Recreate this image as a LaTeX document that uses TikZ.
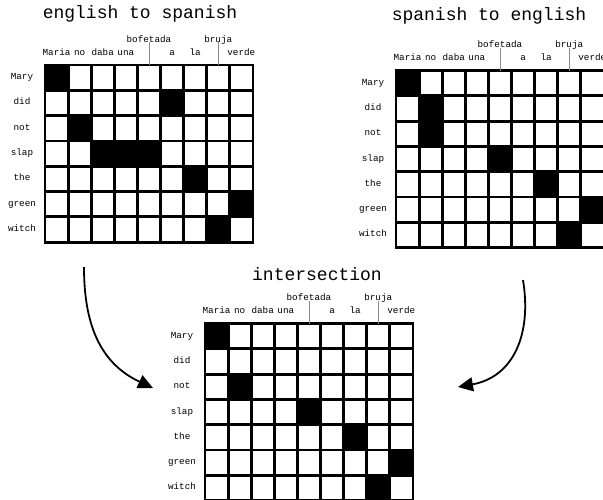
\documentclass[tikz,border=0pt]{standalone}
\usepackage{fontspec}
\setmonofont{Liberation Mono}
\usetikzlibrary{arrows.meta,positioning}
\newcommand{\cellw}{23.1}
\newcommand{\cellh}{25.3}
\tikzset{
  gridtitle/.style={font=\ttfamily\fontsize{18}{18}\selectfont,inner sep=0pt},
  wordlabel/.style={font=\ttfamily\fontsize{9.3}{9.3}\selectfont,inner sep=0pt,
                    text height=5.6pt,text depth=1.6pt},
  gridbg/.style={fill=black},
  cellbox/.style={fill=white},
  hitbox/.style={fill=black},
  tickline/.style={draw=black!45,line width=0.7pt},
  flowarr/.style={-{Triangle[length=15pt,width=14pt]},line width=1.8pt}
}
% #1 prefix, #2/#3 top-left corner, #4 aligned cells as row/col
\newcommand{\aligngrid}[4]{
  \fill[gridbg] ({#2-1.4},{#3-1.4}) rectangle ({#2+9*\cellw+1.4},{#3+7*\cellh+1.4});
  \foreach \r in {0,...,6}{
    \foreach \c in {0,...,8}{
      \fill[cellbox] ({#2+\c*\cellw+1.4},{#3+\r*\cellh+1.4})
        rectangle ({#2+(\c+1)*\cellw-1.4},{#3+(\r+1)*\cellh-1.4});
    }
  }
  \foreach \r/\c in {#4}{
    \fill[hitbox] ({#2+\c*\cellw},{#3+\r*\cellh})
      rectangle ({#2+(\c+1)*\cellw},{#3+(\r+1)*\cellh});
  }
  % english words down the side
  \foreach \r/\w in {0/Mary,1/did,2/not,3/slap,4/the,5/green,6/witch}{
    \node[wordlabel] (#1-r\r) at ({#2-23},{#3+(\r+0.5)*\cellh}) {\w};
  }
  % spanish words along the top
  \foreach \c/\w in {0/Maria,1/no,2/daba,3/una,5/a,6/la,8/verde}{
    \node[wordlabel] (#1-c\c) at ({#2+(\c+0.5)*\cellw},{#3-12}) {\w};
  }
  \foreach \c/\w in {4/bofetada,7/bruja}{
    \node[wordlabel] (#1-c\c) at ({#2+(\c+0.5)*\cellw},{#3-25}) {\w};
    \coordinate (#1-t\c) at ({#2+(\c+0.5)*\cellw},{#3});
    \draw[tickline] (#1-c\c.base) -- (#1-t\c);
  }
}

\begin{document}
\begin{tikzpicture}[x=1pt,y=-1pt]
  \useasboundingbox (0,0) rectangle (603,499);

  \node[gridtitle] (es-title) at (140,14) {english to spanish};
  \node[gridtitle] (se-title) at (489,16) {spanish to english};
  \node[gridtitle] (in-title) at (317,274) {intersection};

  \aligngrid{es}{45}{65}{0/0,1/5,2/1,3/2,3/3,3/4,4/6,5/8,6/7}
  \aligngrid{se}{396}{70.5}{0/0,1/1,2/1,3/4,4/6,5/8,6/7}
  \aligngrid{in}{205}{323.5}{0/0,2/1,3/4,4/6,5/8,6/7}

  % both directions feed the intersection
  \coordinate (es-out) at (84,267);
  \coordinate (se-out) at (523,280);
  \coordinate (in-left) at (153,388);
  \coordinate (in-right) at (458,387);
  \draw[flowarr] (es-out) .. controls (84,322) and (98.6,362.6) .. (in-left);
  \draw[flowarr] (se-out) .. controls (532,335) and (513,377) .. (in-right);
\end{tikzpicture}
\end{document}
